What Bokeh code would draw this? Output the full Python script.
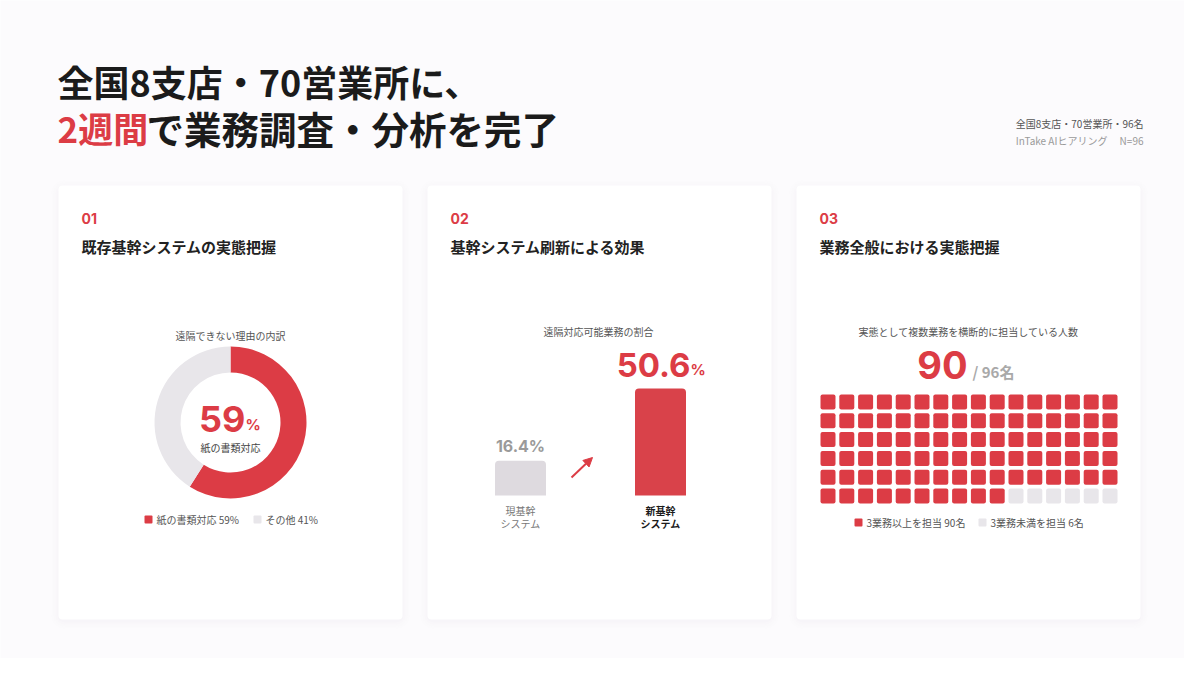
from bokeh.plotting import figure
from bokeh.models import Range1d, Arrow, NormalHead
from bokeh.core.properties import value
from bokeh.embed import file_html
from bokeh.resources import INLINE
import math

# ---------------- data ----------------
title_line1 = "全国8支店・70営業所に、"
title_red = "2週間"
title_rest = "で業務調査・分析を完了"
meta_line1 = "全国8支店・70営業所・96名"
meta_line2 = "InTake AIヒアリング　 N=96"

card_numbers = ["01", "02", "03"]
card_titles = ["既存基幹システムの実態把握", "基幹システム刷新による効果", "業務全般における実態把握"]

donut_title = "遠隔できない理由の内訳"
donut_labels = ["紙の書類対応", "その他"]
donut_values = [59, 41]

bar_title = "遠隔対応可能業務の割合"
bar_line1 = ["現基幹", "新基幹"]
bar_line2 = ["システム", "システム"]
bar_values = [16.4, 50.6]

waffle_title = "実態として複数業務を横断的に担当している人数"
waffle_total = 96
waffle_active = 90
waffle_cols = 16
waffle_labels = ["3業務以上を担当", "3業務未満を担当"]

# ---------------- style ----------------
RED = "#dc3c45"
GRAY = "#e8e6ea"
BG = "#fcfbfd"
CJK = "Noto Sans CJK JP"
NUM = "Inter"

W, H = 1184, 658
X0, Y0 = 0, 0  # data coords == screen px

p = figure(width=W, height=H, x_range=Range1d(X0, X0 + W), y_range=Range1d(Y0 + H, Y0),
           output_backend="svg", toolbar_location=None, min_border=0,
           x_axis_type=None, y_axis_type=None)
p.grid.visible = False
p.outline_line_color = None
p.background_fill_color = BG
p.border_fill_color = BG


def txt(x, y, s, size, color, bold=False, align="left", baseline="middle", font=CJK, **kw):
    p.text(x=[x], y=[y], text=[s], text_font=value(font), text_font_size=f"{size}px",
           text_color=color, text_font_style="bold" if bold else "normal",
           text_align=align, text_baseline=baseline, **kw)


# ---------------- title ----------------
txt(57, 80, title_line1, 36, "#1b1b1b", bold=True)
txt(57, 127, title_red, 35, RED, bold=True)
txt(146, 127, title_rest, 37.5, "#1b1b1b", bold=True)
txt(1143, 123, meta_line1, 10, "#555555", align="right")
txt(1143, 140, meta_line2, 10, "#9a9a9a", align="right")

# ---------------- cards ----------------
card_left = [58, 427, 796]
card_w = 344
card_top, card_bottom = 185, 619
for i, cl in enumerate(card_left):
    for k, a in zip([7, 5, 3, 1], [0.010, 0.014, 0.018, 0.025]):
        p.quad(left=cl - k, right=cl + card_w + k, top=card_top - k + 2, bottom=card_bottom + k + 2,
               fill_color="#b9a8c4", fill_alpha=a, line_color=None, border_radius=6 + k)
    p.quad(left=cl, right=cl + card_w, top=card_top, bottom=card_bottom,
           fill_color="white", line_color=None, border_radius=4)
    txt(cl + 23, 218, card_numbers[i], 14, RED, bold=True, font=NUM)
    txt(cl + 23, 246, card_titles[i], 15, "#222222", bold=True)

# ---------------- panel 1: donut ----------------
cx, cy = 230, 422
txt(cx, 335, donut_title, 10, "#555555", align="center")
total = sum(donut_values)
starts, ends = [], []
acc = 0.0
for v in donut_values:
    starts.append(math.radians(90 - 360 * acc / total))
    acc += v
    ends.append(math.radians(90 - 360 * acc / total))
p.annular_wedge(x=[cx] * len(donut_values), y=[cy] * len(donut_values),
                inner_radius=50, outer_radius=76, inner_radius_units="screen", outer_radius_units="screen",
                start_angle=starts, end_angle=ends, direction="clock",
                fill_color=[RED, GRAY], line_color=None)
txt(245, 418, f"{donut_values[0]}", 36, RED, bold=True, align="right", font=NUM)
txt(245, 424, "%", 15, RED, bold=True, font=NUM)
txt(cx, 447, donut_labels[0], 10, "#444444", align="center")
# legend
leg_x = [148, 257]
for i, lab in enumerate(donut_labels):
    p.rect(x=[leg_x[i]], y=[519], width=8, height=8, width_units="screen", height_units="screen",
           fill_color=[RED, GRAY][i], line_color=None, border_radius=1)
    txt(leg_x[i] + 8, 519, f"{lab} {donut_values[i]}%", 10, "#555555")

# ---------------- panel 2: bars ----------------
bx = [520, 660]
base_px, top_px = 495, 388
k = (base_px - top_px) / max(bar_values)  # px per unit
bstart = -((Y0 + H) - base_px) / k
p.extra_y_ranges = {"bar": Range1d(bstart, bstart + H / k)}
txt(598, 331, bar_title, 10, "#555555", align="center")
p.vbar(x=bx, top=bar_values, bottom=0, width=51, y_range_name="bar",
       fill_color=["#dedadf", "#d9424a"], line_color=None, border_radius=[4, 4, 0, 0])
txt(bx[0], 445, f"{bar_values[0]}%", 16, "#9a9a9a", bold=True, align="center", font=NUM)
txt(690, 364, f"{bar_values[1]}", 33, RED, bold=True, align="right", font=NUM)
txt(690, 369, "%", 15, RED, bold=True, font=NUM)
for i in range(2):
    col = "#777777" if i == 0 else "#1b1b1b"
    txt(bx[i], 510, bar_line1[i], 10, col, bold=(i == 1), align="center")
    txt(bx[i], 523, bar_line2[i], 10, col, bold=(i == 1), align="center")
p.add_layout(Arrow(end=NormalHead(size=9, fill_color=RED, line_color=RED),
                   x_start=571, y_start=477, x_end=592, y_end=457,
                   line_color=RED, line_width=2))

# ---------------- panel 3: waffle ----------------
txt(968, 331, waffle_title, 10, "#555555", align="center")
txt(967, 364, f"{waffle_active}", 38, RED, bold=True, align="right", font=NUM)
txt(972, 371, f"/ {waffle_total}名", 15, "#a9a9a9", bold=True)
pitch = 18.8
c0x, c0y = 827.5, 401.5
p.extra_x_ranges = {"wx": Range1d((X0 - c0x) / pitch, (X0 + W - c0x) / pitch)}
p.extra_y_ranges["wy"] = Range1d((Y0 + H - c0y) / pitch, (Y0 - c0y) / pitch)
idx = list(range(waffle_total))
wcol = [i % waffle_cols for i in idx]
wrow = [i // waffle_cols for i in idx]
wfill = [RED if i < waffle_active else GRAY for i in idx]
p.rect(x=wcol, y=wrow, width=15, height=15, width_units="screen", height_units="screen",
       x_range_name="wx", y_range_name="wy", fill_color=wfill, line_color=None, border_radius=2)
leg3_x = [858, 982]
leg3_vals = [waffle_active, waffle_total - waffle_active]
for i, lab in enumerate(waffle_labels):
    p.rect(x=[leg3_x[i]], y=[522], width=8, height=8, width_units="screen", height_units="screen",
           fill_color=[RED, GRAY][i], line_color=None, border_radius=1)
    txt(leg3_x[i] + 8, 522, f"{lab} {leg3_vals[i]}名", 10, "#555555")

open("out.html", "w").write(file_html(p, INLINE))
